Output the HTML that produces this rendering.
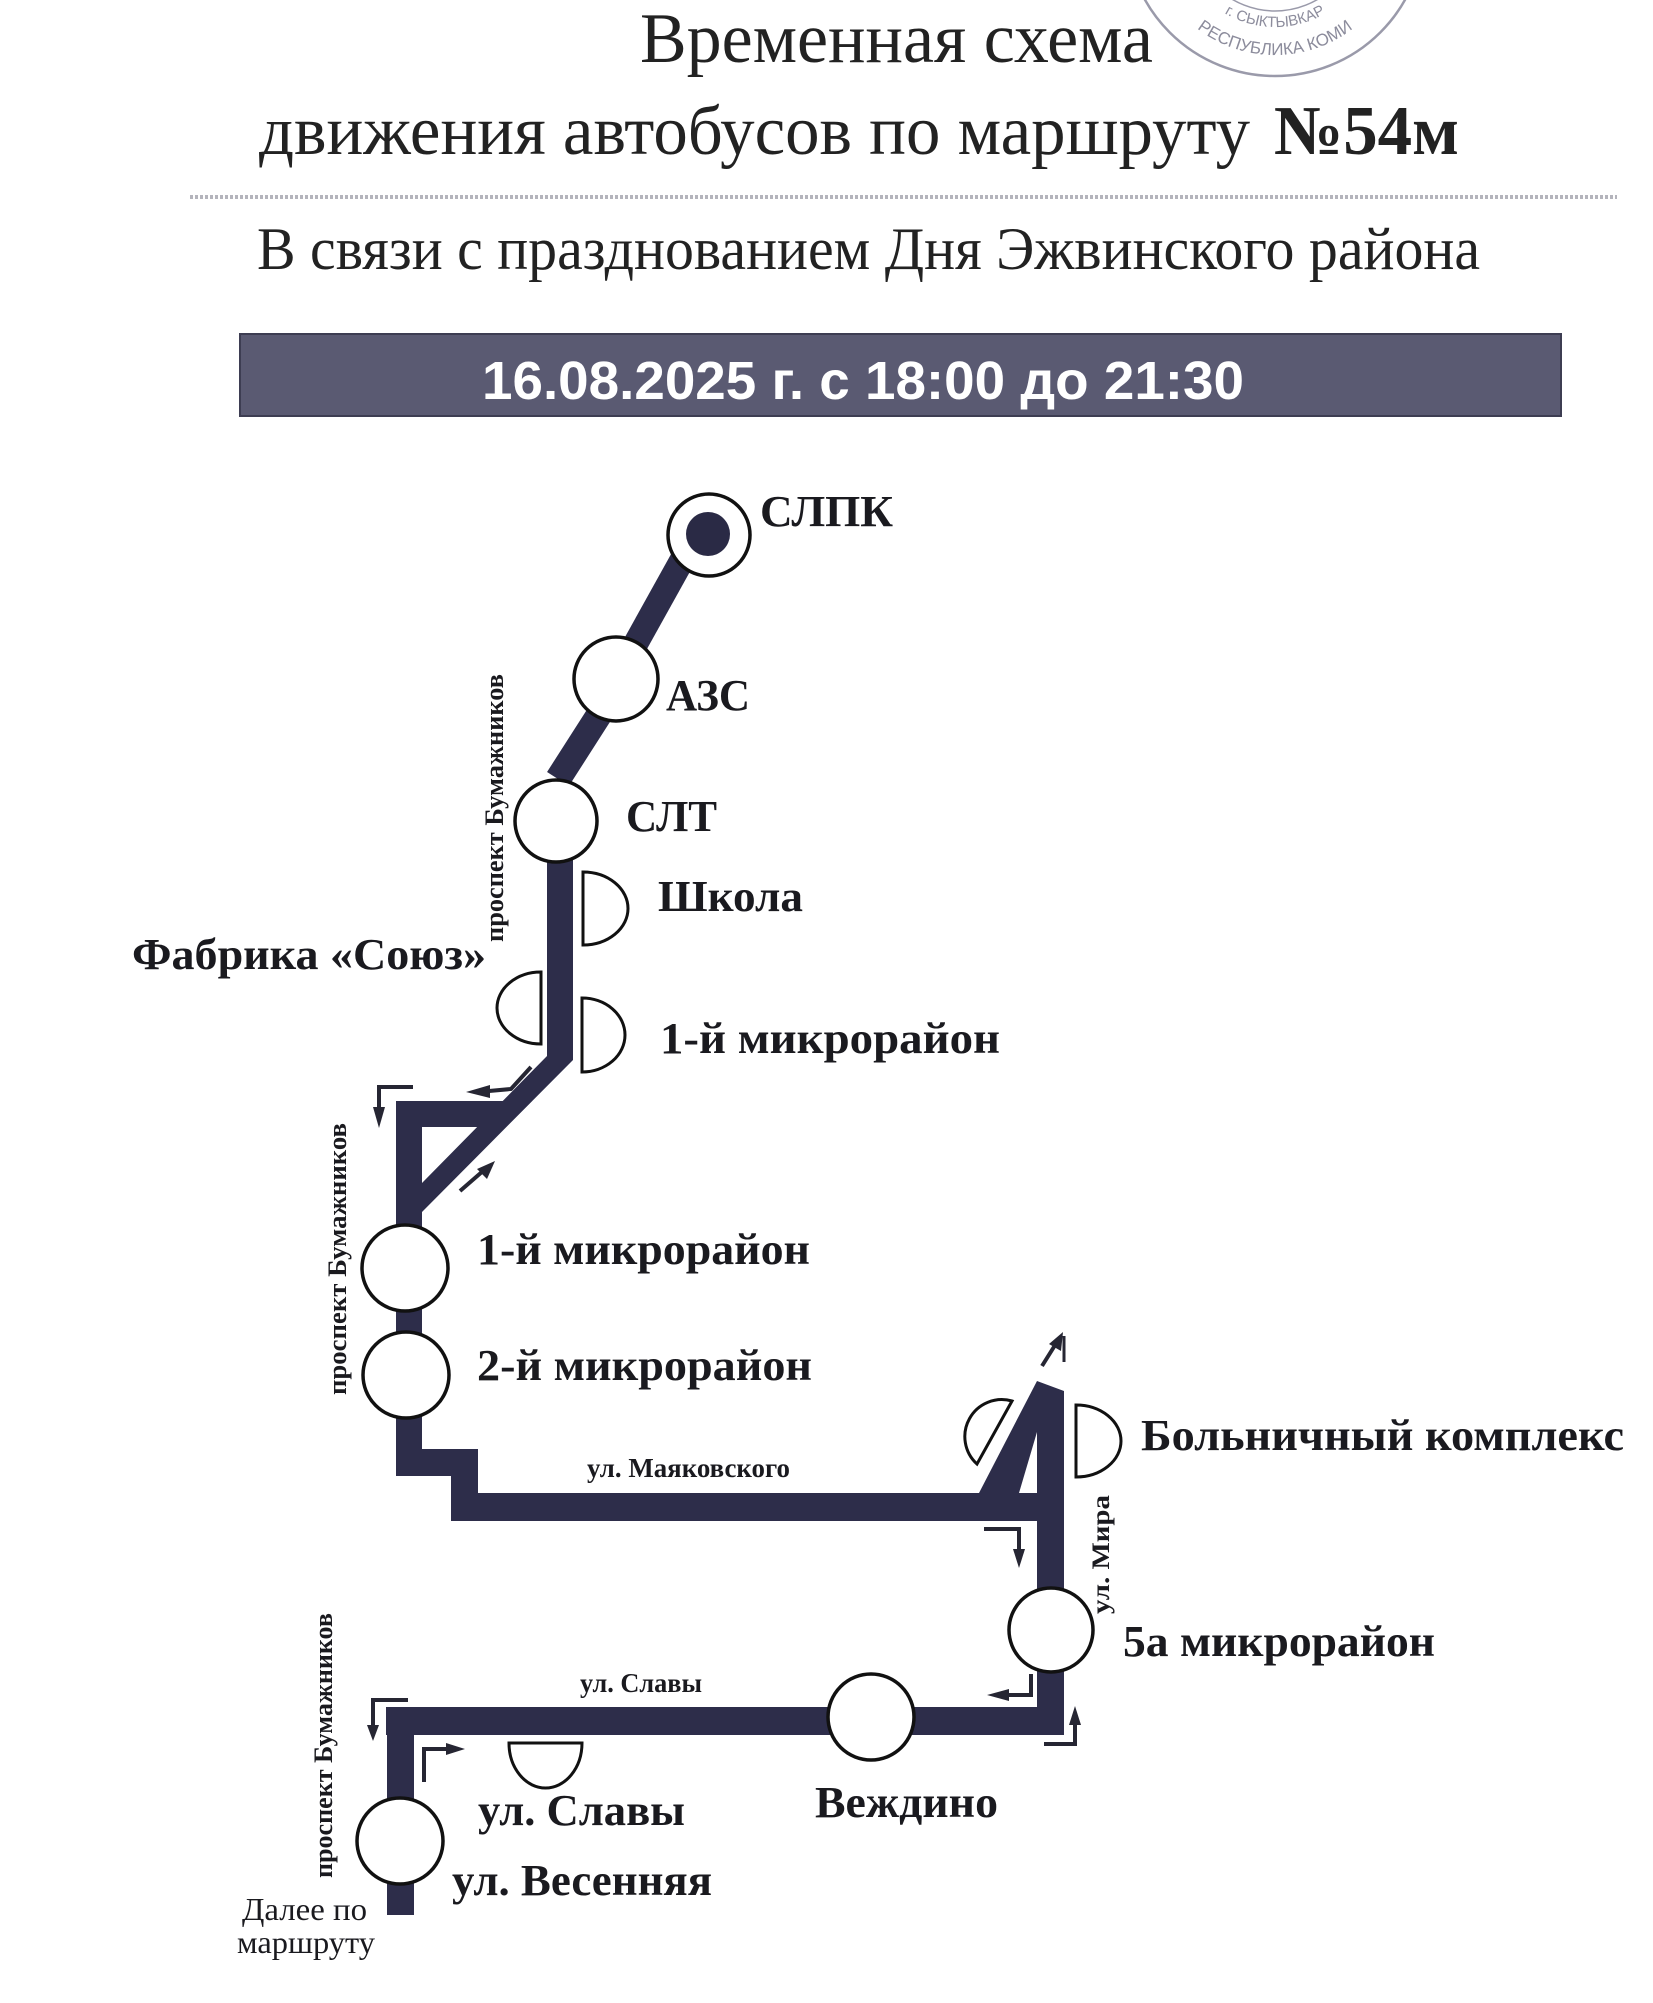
<!DOCTYPE html>
<html>
<head>
<meta charset="utf-8">
<style>
html,body{margin:0;padding:0;background:#fff;}
svg{display:block;}
.lbl{font-family:"Liberation Serif","Noto Serif CJK SC",serif;font-weight:bold;fill:#1a1a1f;}
.st{font-family:"Liberation Serif","Noto Serif CJK SC",serif;font-weight:bold;fill:#1a1a1f;}
</style>
</head>
<body>
<svg width="1653" height="2003" viewBox="0 0 1653 2003" xmlns="http://www.w3.org/2000/svg">
<rect x="0" y="0" width="1653" height="2003" fill="#ffffff"/>

<!-- stamp -->
<defs>
<path id="arcOuter" d="M1147,-73 A128,128 0 0 0 1403,-73"/>
<path id="arcInner" d="M1175,-73 A100,100 0 0 0 1375,-73"/>
</defs>
<g fill="none" stroke="#9a9aaa">
<circle cx="1275" cy="-73" r="149" stroke-width="2.5"/>
<circle cx="1275" cy="-73" r="84" stroke-width="1.5"/>
</g>
<text font-family="Liberation Sans, sans-serif" font-size="17" fill="#8c8c9c"><textPath href="#arcOuter" startOffset="50%" text-anchor="middle">РЕСПУБЛИКА КОМИ</textPath></text>
<text font-family="Liberation Sans, sans-serif" font-size="15" fill="#8c8c9c"><textPath href="#arcInner" startOffset="50%" text-anchor="middle">г. СЫКТЫВКАР</textPath></text>

<!-- title -->
<text x="640" y="62" font-family="Liberation Serif, serif" font-size="71" fill="#222" textLength="513" lengthAdjust="spacingAndGlyphs">Временная схема</text>
<text y="154" font-family="Liberation Serif, serif" font-size="70" fill="#222"><tspan x="259" textLength="991" lengthAdjust="spacingAndGlyphs">движения автобусов по маршруту</tspan><tspan x="1274" font-weight="bold" textLength="185" lengthAdjust="spacingAndGlyphs">№54м</tspan></text>
<line x1="190" y1="197" x2="1617" y2="197" stroke="#b4b4bc" stroke-width="4" stroke-dasharray="3 2"/>
<text x="257" y="269" font-family="Liberation Serif, serif" font-size="60" fill="#222" textLength="1223" lengthAdjust="spacingAndGlyphs">В связи с празднованием Дня Эжвинского района</text>

<!-- date bar -->
<rect x="240" y="334" width="1321" height="82" fill="#5a5a72" stroke="#3d3d52" stroke-width="2"/>
<text x="482" y="399" font-family="Liberation Sans, sans-serif" font-weight="bold" font-size="54" fill="#ffffff" textLength="762" lengthAdjust="spacingAndGlyphs">16.08.2025 г. с 18:00 до 21:30</text>

<!-- roads -->
<g fill="#2d2d4a" stroke="none">
<line x1="696" y1="535" x2="616" y2="679" stroke="#2d2d4a" stroke-width="25"/>
<line x1="622" y1="679" x2="558" y2="779" stroke="#2d2d4a" stroke-width="26"/>
<rect x="547" y="815" width="26" height="245"/>
<polygon points="547,1052 573,1052 573,1060 422,1212 422,1183 547,1056"/>
<polygon points="396,1101 532,1101 506,1127 396,1127"/>
<rect x="396" y="1101" width="26" height="375"/>
<rect x="396" y="1449" width="82" height="27"/>
<rect x="451" y="1449" width="27" height="72"/>
<rect x="451" y="1493" width="613" height="28"/>
<polygon points="979,1493 1037,1381 1037,1432 1019,1493"/>
<polygon points="1037,1381 1064,1391 1064,1735 1037,1735"/>
<rect x="386" y="1707" width="678" height="28"/>
<rect x="387" y="1707" width="27" height="208"/>
</g>

<!-- stations -->
<g fill="#ffffff" stroke="#111" stroke-width="3.5">
<circle cx="709" cy="535" r="41"/>
<circle cx="616" cy="679" r="42"/>
<circle cx="556" cy="821" r="41"/>
<circle cx="405" cy="1268" r="43"/>
<circle cx="406" cy="1375" r="43"/>
<circle cx="1051" cy="1630" r="42"/>
<circle cx="871" cy="1717" r="43"/>
<circle cx="400" cy="1841" r="43"/>
</g>
<circle cx="708" cy="534" r="22" fill="#2a2a45"/>

<!-- half-circle stops -->
<g fill="#ffffff" stroke="#111" stroke-width="3">
<path d="M583,872 A45,36.5 0 0 1 583,945 Z"/>
<path d="M541,972 A44,36 0 0 0 541,1044 Z"/>
<path d="M582,998 A43,37 0 0 1 582,1072 Z"/>
<path d="M1076,1405 A45,36 0 0 1 1076,1477 Z"/>
<path d="M1012,1401 A37,37 0 0 0 977,1464 Z"/>
<path d="M509,1743 A36.5,45 0 0 0 582,1743 Z"/>
</g>

<!-- arrows -->
<g fill="none" stroke="#262633" stroke-width="4" stroke-linejoin="miter">
<polyline points="531,1067 511,1089 489,1091"/>
<polyline points="413,1087 379,1087 379,1110"/>
<line x1="460" y1="1191" x2="483" y2="1171"/>
<line x1="1042" y1="1366" x2="1057" y2="1342"/>
<line x1="1064" y1="1336" x2="1064" y2="1362" stroke-width="3"/>
<polyline points="984,1529 1019,1529 1019,1552"/>
<polyline points="1031,1674 1031,1695 1009,1695"/>
<polyline points="1044,1744 1075,1744 1075,1724"/>
<polyline points="408,1700 373,1700 373,1727"/>
<polyline points="424,1782 424,1749 446,1749"/>
</g>
<g fill="#262633">
<polygon points="466,1092 490,1085 490,1098"/>
<polygon points="379,1128 373,1107 385,1107"/>
<polygon points="495,1161 477,1169 487,1179"/>
<polygon points="1063,1332 1049,1344 1061,1351"/>
<polygon points="1019,1568 1013,1549 1025,1549"/>
<polygon points="987,1695 1009,1689 1009,1701"/>
<polygon points="1075,1706 1069,1725 1081,1725"/>
<polygon points="373,1741 367,1725 379,1725"/>
<polygon points="465,1749 446,1743 446,1755"/>
</g>

<!-- station labels -->
<text class="lbl" x="760" y="526" font-size="44" textLength="133" lengthAdjust="spacingAndGlyphs">СЛПК</text>
<text class="lbl" x="666" y="710" font-size="44" textLength="84" lengthAdjust="spacingAndGlyphs">АЗС</text>
<text class="lbl" x="626" y="831" font-size="44" textLength="91" lengthAdjust="spacingAndGlyphs">СЛТ</text>
<text class="lbl" x="658" y="911" font-size="44" textLength="145" lengthAdjust="spacingAndGlyphs">Школа</text>
<text class="lbl" x="132" y="969" font-size="44" textLength="354" lengthAdjust="spacingAndGlyphs">Фабрика «Союз»</text>
<text class="lbl" x="660" y="1053" font-size="44" textLength="340" lengthAdjust="spacingAndGlyphs">1-й микрорайон</text>
<text class="lbl" x="477" y="1264" font-size="44" textLength="333" lengthAdjust="spacingAndGlyphs">1-й микрорайон</text>
<text class="lbl" x="477" y="1380" font-size="44" textLength="335" lengthAdjust="spacingAndGlyphs">2-й микрорайон</text>
<text class="lbl" x="1141" y="1450" font-size="44" textLength="483" lengthAdjust="spacingAndGlyphs">Больничный комплекс</text>
<text class="lbl" x="1123" y="1656" font-size="44" textLength="312" lengthAdjust="spacingAndGlyphs">5а микрорайон</text>
<text class="lbl" x="815" y="1817" font-size="44" textLength="183" lengthAdjust="spacingAndGlyphs">Веждино</text>
<text class="lbl" x="478" y="1825" font-size="44" textLength="207" lengthAdjust="spacingAndGlyphs">ул. Славы</text>
<text class="lbl" x="452" y="1895" font-size="44" textLength="260" lengthAdjust="spacingAndGlyphs">ул. Весенняя</text>

<!-- street labels -->
<text class="st" x="587" y="1477" font-size="27" textLength="203" lengthAdjust="spacingAndGlyphs">ул. Маяковского</text>
<text class="st" x="580" y="1692" font-size="27" textLength="122" lengthAdjust="spacingAndGlyphs">ул. Славы</text>
<text class="st" font-size="26" transform="translate(503,942) rotate(-90)" x="0" y="0" textLength="268" lengthAdjust="spacingAndGlyphs">проспект Бумажников</text>
<text class="st" font-size="26" transform="translate(346,1395) rotate(-90)" x="0" y="0" textLength="272" lengthAdjust="spacingAndGlyphs">проспект Бумажников</text>
<text class="st" font-size="26" transform="translate(332,1878) rotate(-90)" x="0" y="0" textLength="265" lengthAdjust="spacingAndGlyphs">проспект Бумажников</text>
<text class="st" font-size="25" transform="translate(1109,1614) rotate(-90)" x="0" y="0" textLength="119" lengthAdjust="spacingAndGlyphs">ул. Мира</text>

<!-- continuation -->
<text x="242" y="1920" font-family="Liberation Serif, serif" font-size="32" fill="#1a1a1f" textLength="125" lengthAdjust="spacingAndGlyphs">Далее по</text>
<text x="237" y="1953" font-family="Liberation Serif, serif" font-size="32" fill="#1a1a1f" textLength="138" lengthAdjust="spacingAndGlyphs">маршруту</text>
</svg>
</body>
</html>
